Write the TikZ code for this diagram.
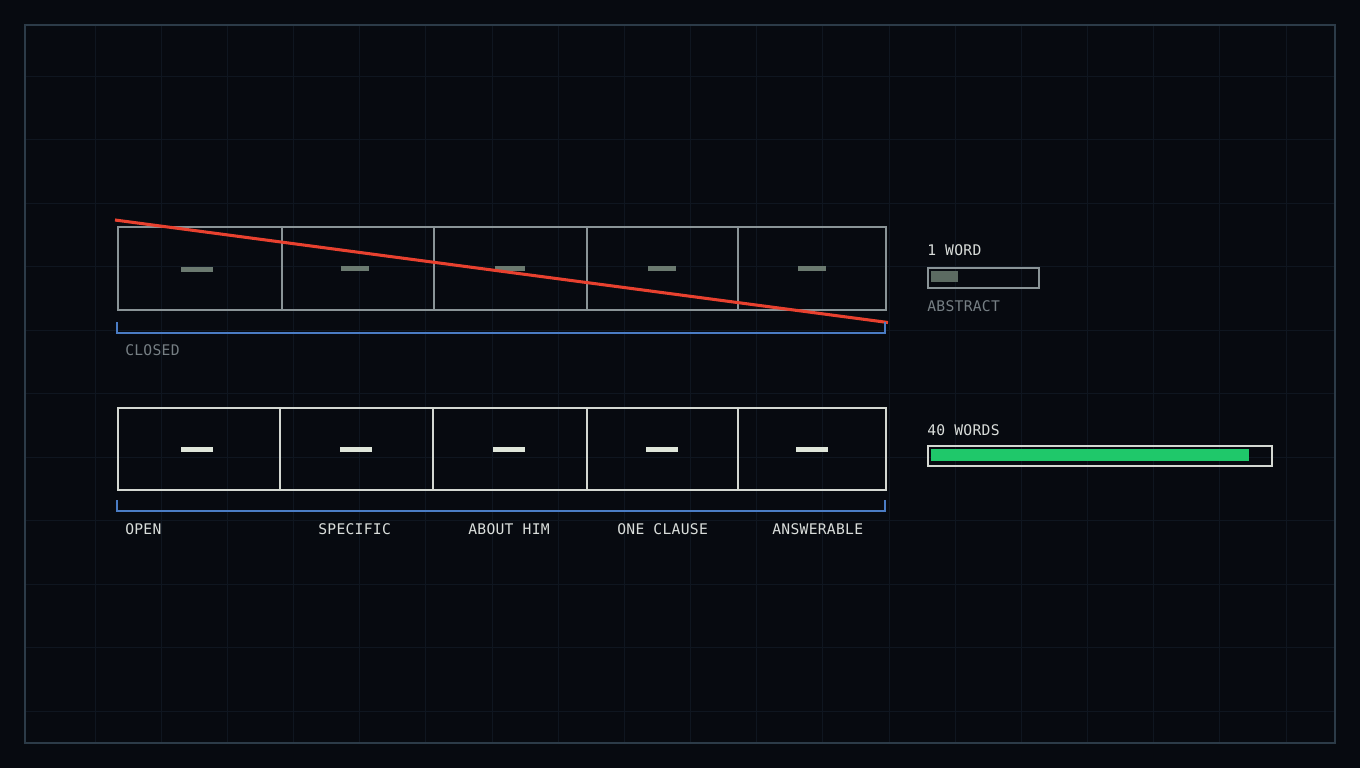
\documentclass[tikz,border=0pt]{standalone}
\usepackage{fontspec}
\newfontfamily\monof[LetterSpace=2]{DejaVu Sans Mono}
\definecolor{bgc}{HTML}{070A10}
\definecolor{gridc}{HTML}{0F1620}
\definecolor{framec}{HTML}{2C3B48}
\definecolor{topcellc}{HTML}{8A9497}
\definecolor{topdashc}{HTML}{6B7A70}
\definecolor{botcellc}{HTML}{D4D8D2}
\definecolor{botdashc}{HTML}{DFE6DA}
\definecolor{redc}{HTML}{E8412F}
\definecolor{bluec}{HTML}{4A7CC4}
\definecolor{greytextc}{HTML}{767F84}
\definecolor{whitetextc}{HTML}{DADEDB}
\definecolor{greenc}{HTML}{1FC86A}
\definecolor{smallbarc}{HTML}{5C6B62}
\begin{document}
\begin{tikzpicture}[x=0.75pt,y=-0.75pt,
  topcell/.style={draw=topcellc, line width=1.2pt, inner sep=0pt, anchor=north west, minimum height=62.25pt},
  botcell/.style={draw=botcellc, line width=1.2pt, inner sep=0pt, anchor=north west, minimum height=61.5pt},
  topdash/.style={fill=topdashc, inner sep=0pt, minimum height=3.75pt},
  botdash/.style={fill=botdashc, inner sep=0pt, minimum height=3.75pt, minimum width=24pt},
  bracket/.style={draw=bluec, line width=1.5pt},
  lbl/.style={anchor=west, inner sep=0pt, font=\monof\fontsize{11pt}{13pt}\selectfont},
  whitelbl/.style={lbl, text=whitetextc},
  greylbl/.style={lbl, text=greytextc}]
\fill[bgc] (0,0) rectangle (1360,768);
\useasboundingbox (0,0) rectangle (1360,768);
% grid
\foreach \i in {0,...,18} \draw[gridc, line width=0.7pt] ({95+66.17*\i},25) -- ({95+66.17*\i},743);
\foreach \j in {0,...,10} \draw[gridc, line width=0.7pt] (25,{76+63.5*\j}) -- (1335,{76+63.5*\j});
\draw[framec, line width=1.1pt] (25,25) rectangle (1335,743);
% top row
\node[topcell, minimum width=123pt] (t1) at (117,226) {};
\node[topcell, minimum width=114pt] (t2) at (281,226) {};
\node[topcell, minimum width=114.75pt] (t3) at (433,226) {};
\node[topcell, minimum width=113.25pt] (t4) at (586,226) {};
\node[topcell, minimum width=111pt] (t5) at (737,226) {};
\node[topdash, minimum width=24pt] (d1) at (197,269) {};
\node[topdash, minimum width=21pt] (d2) at (355,268.5) {};
\node[topdash, minimum width=22.5pt] (d3) at (509.5,268.5) {};
\node[topdash, minimum width=21pt] (d4) at (662,268) {};
\node[topdash, minimum width=21pt] (d5) at (812,268) {};
% red line
\coordinate (rs) at (115,220);
\coordinate (re) at (888,322.5);
\draw[redc, line width=2.3pt] (rs) -- (re);
% top bracket
\coordinate (b1a) at (117,322);
\coordinate (b1b) at (117,333);
\coordinate (b1c) at (885,333);
\coordinate (b1d) at (885,322);
\draw[bracket] (b1a) -- (b1b) -- (b1c) -- (b1d);
\node[greylbl] (closed) at (125,350.5) {CLOSED};
% bottom row
\node[botcell, minimum width=121.5pt] (s1) at (117,407) {};
\node[botcell, minimum width=114.75pt] (s2) at (279,407) {};
\node[botcell, minimum width=115.5pt] (s3) at (432,407) {};
\node[botcell, minimum width=113.25pt] (s4) at (586,407) {};
\node[botcell, minimum width=111pt] (s5) at (737,407) {};
\node[botdash] (e1) at (197,449.5) {};
\node[botdash] (e2) at (355.5,449.5) {};
\node[botdash] (e3) at (509,449) {};
\node[botdash] (e4) at (662,449) {};
\node[botdash] (e5) at (811.5,449) {};
% bottom bracket
\coordinate (b2a) at (117,500);
\coordinate (b2b) at (117,511);
\coordinate (b2c) at (885,511);
\coordinate (b2d) at (885,500);
\draw[bracket] (b2a) -- (b2b) -- (b2c) -- (b2d);
\node[whitelbl] (open) at (125,529.5) {OPEN};
\node[whitelbl] (spec) at (318,529.5) {SPECIFIC};
\node[whitelbl] (about) at (468,529.5) {ABOUT HIM};
\node[whitelbl] (clause) at (617,529.5) {ONE CLAUSE};
\node[whitelbl] (answ) at (772,529.5) {ANSWERABLE};
% right panel
\node[whitelbl] (oneword) at (927,250.5) {1 WORD};
\node[draw=topcellc, line width=1.2pt, inner sep=0pt, anchor=north west, minimum width=83.25pt, minimum height=15pt] (sbox) at (927,267) {};
\node[fill=smallbarc, inner sep=0pt, anchor=north west, minimum width=20.25pt, minimum height=8.25pt] (sbar) at (931,271) {};
\node[greylbl] (abstract) at (927,306) {ABSTRACT};
\node[whitelbl] (forty) at (927,430) {40 WORDS};
\node[draw=botcellc, line width=1.2pt, inner sep=0pt, anchor=north west, minimum width=258pt, minimum height=15pt] (lbox) at (927,445) {};
\node[fill=greenc, inner sep=0pt, anchor=north west, minimum width=238.5pt, minimum height=9pt] (lbar) at (931,449) {};
\end{tikzpicture}
\end{document}
